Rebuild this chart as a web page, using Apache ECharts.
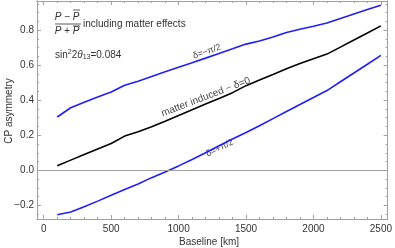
<!DOCTYPE html>
<html><head><meta charset="utf-8">
<script src="https://cdn.jsdelivr.net/npm/echarts@6/dist/echarts.min.js"></script>
<style>html,body{margin:0;padding:0;background:#fff}#c{width:395px;height:248px}</style>
</head><body><div id="c"></div>
<script>
const baselines = [100,200,300,400,500,600,700,800,900,1000,1100,1200,1300,1400,1500,1600,1700,1800,1900,2000,2100,2200,2300,2400,2500];
const deltaMinus = [0.304,0.357,0.388,0.418,0.447,0.485,0.508,0.535,0.562,0.588,0.614,0.640,0.667,0.693,0.720,0.738,0.760,0.786,0.805,0.822,0.840,0.866,0.892,0.917,0.942];
const matterOnly = [0.026,0.058,0.090,0.122,0.153,0.195,0.220,0.248,0.280,0.313,0.345,0.378,0.410,0.443,0.483,0.515,0.547,0.580,0.610,0.636,0.663,0.703,0.743,0.783,0.824];
const deltaPlus = [-0.254,-0.238,-0.208,-0.176,-0.143,-0.110,-0.078,-0.042,-0.010,0.025,0.062,0.100,0.140,0.178,0.216,0.254,0.295,0.335,0.375,0.415,0.455,0.505,0.555,0.605,0.656];
const xMajorTicks = [0,500,1000,1500,2000,2500];
const xMinorTicks = [0,100,200,300,400,500,600,700,800,900,1000,1100,1200,1300,1400,1500,1600,1700,1800,1900,2000,2100,2200,2300,2400,2500];
const yMajorTicks = [-0.2,0,0.2,0.4,0.6,0.8];
const yMinorTicks = [-0.25,-0.2,-0.15,-0.1,-0.05,0,0.05,0.1,0.15,0.2,0.25,0.3,0.35,0.4,0.45,0.5,0.55,0.6,0.65,0.7,0.75,0.8,0.85,0.9,0.95];
const lineLabels = [
  {text:'δ=−π/2', x:1210, y:0.677, angle:19, size:9},
  {text:'matter induced − δ=0', x:1202, y:0.418, angle:21, size:10},
  {text:'δ=+π/2', x:1305, y:0.127, angle:26, size:9}
];

const FONT = 'Liberation Sans, Arial, sans-serif';
const FRAME = '#a0a0a0';
const X_MIN = -50, X_MAX = 2550, Y_MIN = -0.278, Y_MAX = 0.966;

function xAx(pos, ticks, len, labels) {
  return {
    type:'value', position:pos, min:X_MIN, max:X_MAX, gridIndex:0,
    axisLine:{show:true, onZero:false, lineStyle:{color:FRAME, width:1}},
    axisTick:{show:true, inside:true, length:len, customValues:ticks, lineStyle:{color:FRAME}},
    axisLabel:{show:labels, customValues:xMajorTicks, color:'#333', fontFamily:FONT, fontSize:10, margin:5,
      formatter: v => String(Math.round(v))},
    splitLine:{show:false}
  };
}
function yAx(pos, ticks, len, labels) {
  return {
    type:'value', position:pos, min:Y_MIN, max:Y_MAX, gridIndex:0,
    axisLine:{show:true, onZero:false, lineStyle:{color:FRAME, width:1}},
    axisTick:{show:true, inside:true, length:len, customValues:ticks, lineStyle:{color:FRAME}},
    axisLabel:{show:labels, customValues:yMajorTicks, color:'#333', fontFamily:FONT, fontSize:10, margin:3,
      formatter: v => v.toFixed(1).replace('-', '−')},
    splitLine:{show:false}
  };
}

const chart = echarts.init(document.getElementById('c'), null, {renderer:'canvas'});
const lineSeries = (name, data, color) => ({
  name, type:'line', xAxisIndex:0, yAxisIndex:0, showSymbol:false, silent:true,
  data: baselines.map((b,i)=>[b,data[i]]),
  lineStyle:{color, width:1.6}, itemStyle:{color}, animation:false
});

const option = {
  animation:false,
  grid:{left:37, right:4, top:1, bottom:29, containLabel:false},
  xAxis:[xAx('bottom', xMajorTicks, 4, true), xAx('bottom', xMinorTicks, 2, false),
         xAx('top', xMajorTicks, 4, false), xAx('top', xMinorTicks, 2, false)],
  yAxis:[yAx('left', yMajorTicks, 4, true), yAx('left', yMinorTicks, 2, false),
         yAx('right', yMajorTicks, 4, false), yAx('right', yMinorTicks, 2, false)],
  series:[
    Object.assign(lineSeries('δ=−π/2', deltaMinus, '#1f1ff5'), {
      markLine:{silent:true, symbol:'none', label:{show:false},
        lineStyle:{color:'#a0a0a0', width:1, type:'solid'}, data:[{yAxis:0}]}
    }),
    lineSeries('matter', matterOnly, '#000000'),
    lineSeries('δ=+π/2', deltaPlus, '#1f1ff5')
  ]
};
chart.setOption(option);

const g = [];
lineLabels.forEach(l => {
  const p = chart.convertToPixel({gridIndex:0}, [l.x, l.y]);
  g.push({type:'text', x:p[0], y:p[1], rotation:l.angle*Math.PI/180,
    style:{text:l.text, fill:'#444', font:l.size+'px '+FONT, align:'center', verticalAlign:'middle'}});
});
// Title fraction
g.push({type:'text', x:67, y:17, style:{text:'P − P', fill:'#333', font:'italic 10px '+FONT, align:'center', verticalAlign:'middle'}});
g.push({type:'line', shape:{x1:73, y1:10, x2:80, y2:10}, style:{stroke:'#333', lineWidth:0.8}});
g.push({type:'line', shape:{x1:55, y1:24, x2:81, y2:24}, style:{stroke:'#333', lineWidth:0.8}});
g.push({type:'text', x:67, y:31, style:{text:'P + P', fill:'#333', font:'italic 10px '+FONT, align:'center', verticalAlign:'middle'}});
g.push({type:'line', shape:{x1:73, y1:26, x2:80, y2:26}, style:{stroke:'#333', lineWidth:0.8}});
g.push({type:'text', x:83, y:24, style:{text:'including matter effects', fill:'#333', font:'10px '+FONT, align:'left', verticalAlign:'middle'}});
g.push({type:'text', x:55, y:55, style:{
  text:'{a|sin}{s|2}{a|2}{i|θ}{s2|13}{a|=0.084}', align:'left', verticalAlign:'middle',
  rich:{a:{fill:'#333', font:'10px '+FONT}, s:{fill:'#333', font:'7px '+FONT, verticalAlign:'top', padding:[0,0,6,0]},
        i:{fill:'#333', font:'italic 10px '+FONT}, s2:{fill:'#333', font:'7px '+FONT, padding:[5,0,0,0]}}}});
g.push({type:'text', x:9, y:111, rotation:Math.PI/2, style:{text:'CP asymmetry', fill:'#333', font:'10px '+FONT, align:'center', verticalAlign:'middle'}});
g.push({type:'text', x:209, y:242, style:{text:'Baseline [km]', fill:'#333', font:'10px '+FONT, align:'center', verticalAlign:'middle'}});
chart.setOption({graphic:g});
</script>
</body></html>
